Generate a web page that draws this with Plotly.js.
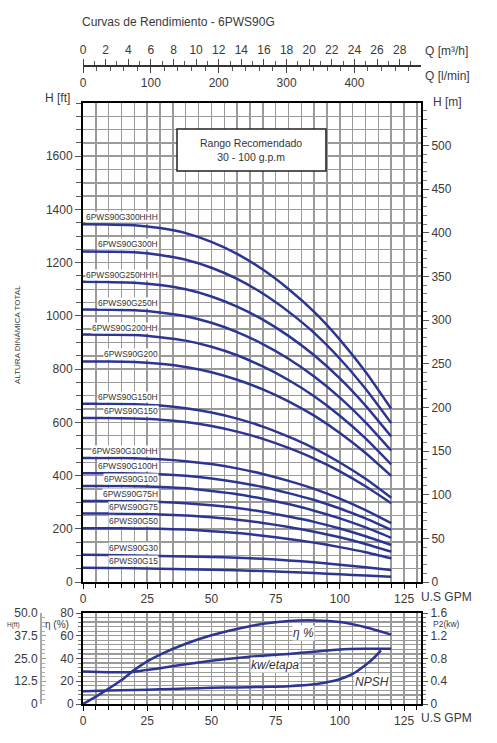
<!DOCTYPE html>
<html><head><meta charset="utf-8">
<script src="https://cdn.plot.ly/plotly-3.0.1.min.js"></script>
<style>html,body{margin:0;padding:0;background:#fff;}#c{width:497px;height:743px;}</style>
</head><body><div id="c"></div>
<script>
// ---- data ----
const gpm = [0,10,20,30,40,50,60,70,80,90,100,110,120];
const curveNames = ['6PWS90G300HHH','6PWS90G300H','6PWS90G250HHH','6PWS90G250H','6PWS90G200HH','6PWS90G200',
  '6PWS90G150H','6PWS90G150','6PWS90G100HH','6PWS90G100H','6PWS90G100','6PWS90G75H','6PWS90G75','6PWS90G50','6PWS90G30','6PWS90G15'];
const hG300HHH = [1344,1343,1341,1330,1311,1278,1233,1174,1101,1015,911,790,651];
const hG300H   = [1242,1241,1239,1229,1211,1181,1139,1084,1016,936,839,726,597];
const hG250HHH = [1128,1127,1125,1116,1100,1073,1035,986,925,852,765,663,547];
const hG250H   = [1024,1023,1021,1013,999,974,939,894,839,772,693,600,494];
const hG200HH  = [930,929,928,920,907,884,852,810,759,698,625,540,442];
const hG200    = [829,829,827,820,808,788,760,724,679,625,560,485,399];
const hG150H   = [670,670,668,663,653,637,614,584,546,502,449,388,317];
const hG150    = [616,616,614,610,601,586,565,538,504,464,416,360,296];
const hG100HH  = [466,466,465,461,454,443,427,406,380,350,313,270,221];
const hG100H   = [409,409,408,405,399,389,375,357,334,308,276,239,196];
const hG100    = [361,361,360,357,352,342,330,313,293,268,239,205,166];
const hG75H    = [304,304,303,301,296,288,278,264,246,226,201,172,139];
const hG75     = [257,257,256,254,250,243,234,222,207,189,168,143,114];
const hG50     = [202,202,201,200,197,191,184,174,162,148,131,112,89];
const hG30     = [102,101,99.5,98,96,94,91,87,81,74,65,55,45];
const hG15     = [54,53,51.5,49.5,48,46.5,44,41,37.5,33.5,29,24.5,20];
const curveValues = [hG300HHH,hG300H,hG250HHH,hG250H,hG200HH,hG200,hG150H,hG150,hG100HH,hG100H,hG100,hG75H,hG75,hG50,hG30,hG15];

const effGpm = [0,5,10,15,20,25,30,40,50,60,70,80,90,100,110,120];
const effPct = [0,6.5,13.5,21,30,37.5,43.5,53,60.5,66,70.5,73,73.5,72,67.5,61];
const kwGpm  = [0,10,18,25,30,40,50,60,70,80,90,100,110,120];
const kwVal  = [0.57,0.56,0.56,0.60,0.63,0.70,0.76,0.81,0.85,0.88,0.92,0.96,0.97,0.97];
const npshGpm = [0,10,20,30,40,50,60,70,80,90,95,100,105,110,113,116];
const npshFt  = [7,7.4,7.7,8.1,8.5,8.9,9.1,9.4,9.8,10.8,12,13.6,16.5,21.4,25,29.5];

const xTicks = [0,25,50,75,100,125];
const m3hTicks = [0,2,4,6,8,10,12,14,16,18,20,22,24,26,28];
const lminTicks = [0,100,200,300,400];
const ftTicks = [0,200,400,600,800,1000,1200,1400,1600];
const effTicks = [0,20,40,60,80];
const kwTicks = [0,0.4,0.8,1.2,1.6];
const kwText = ['0','0.4','0.8','1.2','1.6'];
const npshTicks = [0,12.5,25,37.5,50];
const npshText = ['0','12.5','25.0','37.5','50.0'];

// ---- layout helpers ----
const W = 497, H = 743;
const px = v => v / W, py = v => 1 - v / H;
const FONT = 'Liberation Sans, Arial, sans-serif';
const BLUE = '#2d3592';
const GRID = '#9a9a9a';
const TXT = '#3a3a3a';
const XMAX = 131.6;

const traces = [];
curveValues.forEach((arr, i) => {
  traces.push({x: gpm, y: arr, xaxis: 'x', yaxis: 'y', mode: 'lines', name: curveNames[i],
    line: {color: BLUE, width: 2.5, shape: 'spline', smoothing: 0.6}, hoverinfo: 'skip'});
});
traces.push({x: effGpm, y: effPct, xaxis: 'x5', yaxis: 'y5', mode: 'lines', line: {color: BLUE, width: 2.5, shape: 'spline', smoothing: 0.8}});
traces.push({x: kwGpm, y: kwVal, xaxis: 'x5', yaxis: 'y6', mode: 'lines', line: {color: BLUE, width: 2.5, shape: 'spline', smoothing: 0.8}});
traces.push({x: npshGpm, y: npshFt, xaxis: 'x5', yaxis: 'y7', mode: 'lines', line: {color: BLUE, width: 2.5, shape: 'spline', smoothing: 0.8}});
// invisible helper traces so the secondary scales (Q m³/h, Q l/min, H m) are drawn
[['x3','y'],['x4','y'],['x','y2']].forEach(p => {
  traces.push({x: gpm, y: hG15, xaxis: p[0], yaxis: p[1], mode: 'lines', opacity: 0, line: {width: 0}, hoverinfo: 'skip'});
});

const tf = {family: FONT, size: 12, color: TXT};
const mainDom = [px(83), px(421)];

const layout = {
  width: W, height: H, margin: {l: 0, r: 0, t: 0, b: 0},
  paper_bgcolor: '#fff', plot_bgcolor: '#fff', showlegend: false,
  font: {family: FONT, size: 12, color: TXT},
  xaxis: {domain: mainDom, anchor: 'y', range: [0, XMAX], tickvals: xTicks, ticks: 'outside', ticklen: 5, tickcolor: '#000',
    showgrid: true, gridcolor: GRID, gridwidth: 1.5, zeroline: false, showline: true, linecolor: '#000', linewidth: 2, mirror: true,
    minor: {dtick: 5, showgrid: true, gridcolor: GRID, gridwidth: 1.5, ticks: 'outside', ticklen: 4, tickcolor: '#000'},
    tickfont: tf},
  yaxis: {domain: [py(582), py(103)], anchor: 'x', range: [0, 1800], tickvals: ftTicks, ticks: 'outside', ticklen: 6, tickcolor: '#555',
    showgrid: true, gridcolor: GRID, gridwidth: 1.5, zeroline: false, showline: true, linecolor: '#000', linewidth: 2, mirror: true,
    minor: {dtick: 50, showgrid: true, gridcolor: GRID, gridwidth: 1.5, ticks: 'outside', ticklen: 5, tickcolor: '#555'},
    tickfont: tf},
  yaxis2: {overlaying: 'y', side: 'right', anchor: 'x', range: [0, 1800/3.28084], dtick: 50, ticks: 'outside', ticklen: 6, tickcolor: '#555',
    showgrid: false, zeroline: false, showline: true, linecolor: '#000', linewidth: 2,
    minor: {dtick: 10, ticks: 'outside', ticklen: 4, tickcolor: '#777'}, tickfont: tf},
  xaxis3: {overlaying: 'x', anchor: 'free', position: py(65), side: 'top', range: [0, XMAX*0.227125], tickvals: m3hTicks,
    ticks: 'outside', ticklen: 6, tickcolor: '#444', showgrid: false, zeroline: false, showline: true, linecolor: '#333', linewidth: 1.5,
    minor: {dtick: 1, ticks: 'outside', ticklen: 4, tickcolor: '#555'}, tickfont: tf},
  xaxis4: {overlaying: 'x', anchor: 'free', position: py(65), side: 'bottom', range: [0, XMAX*3.78541], tickvals: lminTicks,
    ticks: 'outside', ticklen: 6, tickcolor: '#444', showgrid: false, zeroline: false, showline: true, linecolor: '#333', linewidth: 1.5,
    minor: {dtick: 20, ticks: 'outside', ticklen: 4, tickcolor: '#555'}, tickfont: tf},
  xaxis5: {domain: mainDom, anchor: 'y5', range: [0, XMAX], tickvals: xTicks, ticks: 'outside', ticklen: 5, tickcolor: '#000',
    showgrid: true, gridcolor: GRID, gridwidth: 1.5, zeroline: false, showline: true, linecolor: '#000', linewidth: 2, mirror: true,
    minor: {dtick: 5, showgrid: true, gridcolor: GRID, gridwidth: 1.5, ticks: 'outside', ticklen: 4, tickcolor: '#000'},
    tickfont: tf},
  yaxis5: {domain: [py(704), py(613)], anchor: 'x5', range: [0, 80], tickvals: effTicks, ticks: 'outside', ticklen: 5, tickcolor: '#555',
    showgrid: true, gridcolor: GRID, gridwidth: 1.2, zeroline: false, showline: true, linecolor: '#000', linewidth: 2, mirror: true,
    minor: {dtick: 4, showgrid: true, gridcolor: GRID, gridwidth: 1.2, ticks: 'outside', ticklen: 3, tickcolor: '#777'},
    tickfont: tf},
  yaxis6: {overlaying: 'y5', side: 'right', anchor: 'x5', range: [0, 1.6], tickvals: kwTicks, ticktext: kwText, ticks: 'outside', ticklen: 5,
    tickcolor: '#555', showgrid: false, zeroline: false, showline: true, linecolor: '#000', linewidth: 2,
    minor: {dtick: 0.08, ticks: 'outside', ticklen: 3, tickcolor: '#777'}, tickfont: tf},
  yaxis7: {overlaying: 'y5', anchor: 'free', position: px(40), side: 'left', range: [0, 50], tickvals: npshTicks, ticktext: npshText,
    ticks: 'inside', ticklen: 4, tickcolor: '#999', showgrid: false, zeroline: false, showline: true, linecolor: '#aaa', linewidth: 1.5,
    minor: {dtick: 2.5, ticks: 'inside', ticklen: 3, tickcolor: '#aaa'}, tickfont: tf},
  shapes: [
    {type: 'rect', xref: 'x', yref: 'y', x0: 36.6, x1: 94.6, y0: 1544, y1: 1702, fillcolor: '#fff', line: {color: '#222', width: 1.5}, layer: 'above'}
  ],
  annotations: []
};

const A = layout.annotations;
const pap = (text, x, y, opts) => A.push(Object.assign({text, xref: 'paper', yref: 'paper', x: px(x), y: py(y), showarrow: false,
  xanchor: 'left', yanchor: 'middle', font: {family: FONT, size: 12, color: TXT}}, opts || {}));
pap('Curvas de Rendimiento - 6PWS90G', 80, 22);
pap('Q [m³/h]', 423, 51);
pap('Q [l/min]', 423, 76);
pap('H [ft]', 43, 98);
pap('H [m]', 431, 102);
pap('ALTURA DINÁMICA TOTAL', 17, 335, {xanchor: 'center', textangle: -90, font: {family: FONT, size: 8, color: TXT}});
pap('U.S GPM', 419, 597);
pap('U.S GPM', 419, 718);
pap('η (%)', 71, 624, {xanchor: 'right', font: {family: FONT, size: 10, color: TXT}});
pap('H(ft)', 5, 624.5, {font: {family: FONT, size: 6.5, color: TXT}});
pap('P2(kw)', 431, 624.3, {font: {family: FONT, size: 8.5, color: TXT}});
A.push({text: 'Rango Recomendado<br>30 - 100 g.p.m', xref: 'x', yref: 'y', x: 65.6, y: 1623, showarrow: false,
  font: {family: FONT, size: 10.5, color: '#333'}});

curveValues.forEach((arr, i) => {
  A.push({text: curveNames[i], xref: 'x', yref: 'y', x: 29.6, y: arr[0], yshift: 7, xanchor: 'right', yanchor: 'middle',
    showarrow: false, bgcolor: '#fff', borderpad: 0,
    font: {family: FONT, size: 8.4, color: '#333'}});
});
A.push({text: '<i>η %</i>', xref: 'x5', yref: 'y5', x: 85.7, y: 62.4, showarrow: false, bgcolor: '#fff', borderpad: 0,
  font: {family: FONT, size: 12, color: '#333'}});
A.push({text: '<i>kw/etapa</i>', xref: 'x5', yref: 'y5', x: 74.6, y: 34.3, showarrow: false, bgcolor: '#fff', borderpad: 0,
  font: {family: FONT, size: 12, color: '#333'}});
A.push({text: '<i>NPSH</i>', xref: 'x5', yref: 'y5', x: 112.5, y: 19.6, showarrow: false, bgcolor: '#fff', borderpad: 0,
  font: {family: FONT, size: 12, color: '#333'}});

Plotly.newPlot('c', traces, layout, {staticPlot: true, displayModeBar: false});
</script>
</body></html>
